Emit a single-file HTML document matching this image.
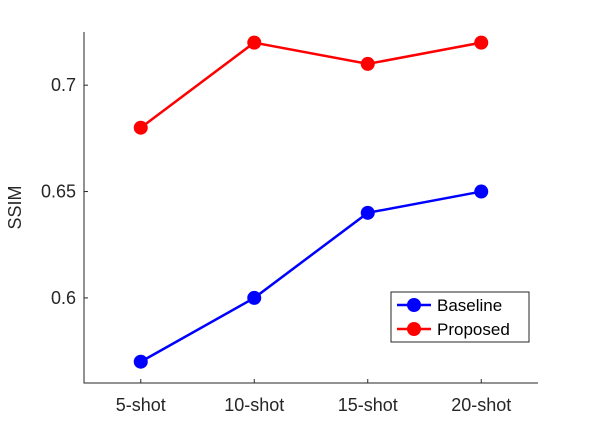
<!DOCTYPE html>
<html><head><meta charset="utf-8"><style>
body{margin:0;background:#fff;}
svg{display:block;font-family:"Liberation Sans",sans-serif;}
</style></head><body>
<svg id="chart" width="595" height="431"></svg>
<script>
const categories=["5-shot","10-shot","15-shot","20-shot"];
const baseline=[0.57,0.60,0.64,0.65];
const proposed=[0.68,0.72,0.71,0.72];
const yTicks=[0.6,0.65,0.7];
const yTickLabels=["0.6","0.65","0.7"];
const seriesNames=["Baseline","Proposed"];

const svg=document.getElementById('chart');
const NS="http://www.w3.org/2000/svg";
const L=84,R=538,T=32,B=383,yMin=0.56,yMax=0.725;
const xs=i=>L+(i+0.5)*(R-L)/categories.length;
const ys=v=>B-(v-yMin)/(yMax-yMin)*(B-T);
function mk(tag,attrs,parent){const e=document.createElementNS(NS,tag);for(const k in attrs)e.setAttribute(k,attrs[k]);(parent||svg).appendChild(e);return e;}

const ax=mk('path',{d:`M${L},${T}V${B}H${R}`,stroke:'#262626',fill:'none','stroke-width':1});


yTicks.forEach((v,i)=>{
  const t=mk('line',{x1:L,x2:L+4,y1:ys(v),y2:ys(v),stroke:'#262626'});
  
  
  const lb=mk('text',{x:L-8,y:ys(v)+6,'text-anchor':'end','font-size':18,fill:'#262626'});
  lb.textContent=yTickLabels[i];
  
  
});
categories.forEach((c,i)=>{
  const t=mk('line',{x1:xs(i),x2:xs(i),y1:B,y2:B-4,stroke:'#262626'});
  
  
  const lb=mk('text',{x:xs(i),y:B+28,'text-anchor':'middle','font-size':18,fill:'#262626'});
  lb.textContent=c;
  
  
});
const yt=mk('text',{x:0,y:0,transform:`translate(21,${(T+B)/2}) rotate(-90)`,'text-anchor':'middle','font-size':18,fill:'#262626'});
yt.textContent="SSIM";



[[baseline,'#0000ff','baseline'],[proposed,'#ff0000','proposed']].forEach(([d,col,n])=>{
  const p=mk('polyline',{points:d.map((v,i)=>xs(i)+','+ys(v)).join(' '),stroke:col,fill:'none','stroke-width':2.5});
  
  
  d.forEach((v,i)=>{
    const c=mk('circle',{cx:xs(i),cy:ys(v),r:7,fill:col});
    
    
  });
});

const lg=mk('g',{});


mk('rect',{x:391,y:292,width:138,height:50,fill:'#fff',stroke:'#262626'},lg);
['#0000ff','#ff0000'].forEach((col,i)=>{
  const y=305+i*24;
  mk('line',{x1:397,x2:431,y1:y,y2:y,stroke:col,'stroke-width':2.5},lg);
  mk('circle',{cx:414,cy:y,r:7,fill:col},lg);
  const t=mk('text',{x:437,y:y+6,'font-size':17,fill:'#000'},lg);
  t.textContent=seriesNames[i];
  
  
});
</script>
</body></html>
